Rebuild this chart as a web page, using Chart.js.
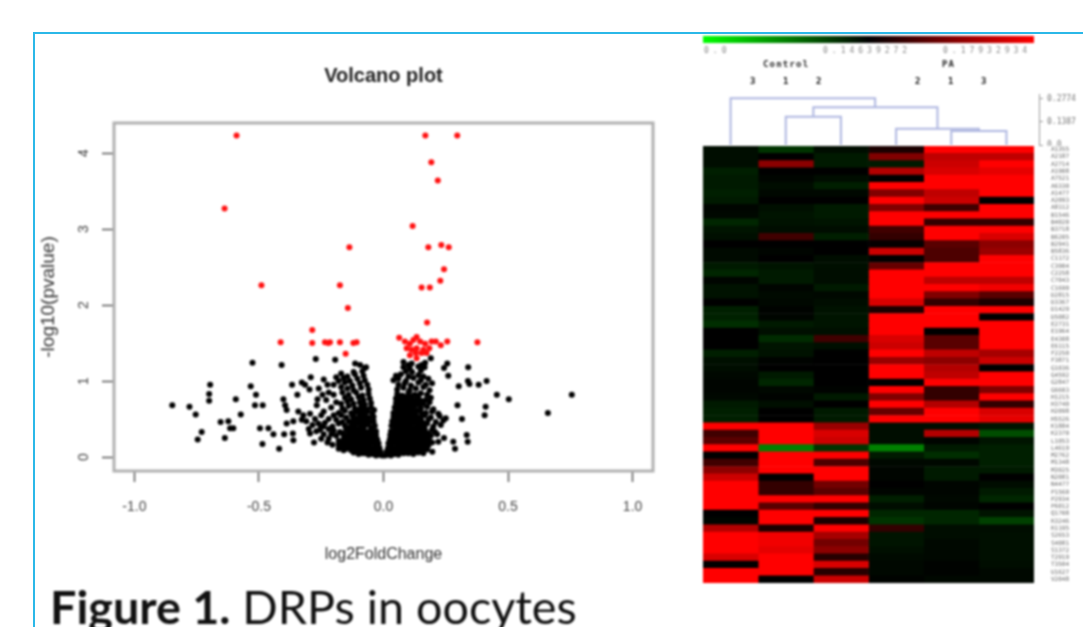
<!DOCTYPE html>
<html>
<head>
<meta charset="utf-8">
<title>Figure 1. DRPs in oocytes</title>
<script src="https://cdn.jsdelivr.net/npm/chart.js@4"></script>
<style>
  html, body { margin: 0; padding: 0; background: #fff; overflow: hidden; }
  #page { position: relative; width: 1083px; height: 627px; overflow: hidden; }
  #frame { position: absolute; left: 33px; top: 32px; width: 1060px; height: 610px; border-top: 2px solid #2bb8e8; border-left: 2px solid #2bb8e8; }
  canvas { position: absolute; filter: blur(1px); }
  .txt { position: absolute; white-space: nowrap; filter: blur(0.8px); }
  #scaleBar { position: absolute; left: 703px; top: 36px; width: 331px; height: 7px; filter: blur(1px);
    background: linear-gradient(to right, #00ff00, #000 50%, #ff0000); }
  .scaleNum { font: 8px "DejaVu Sans Mono"; letter-spacing: 4px; color: #888; top: 46px; }
  .group { font: bold 9px "DejaVu Sans Mono"; letter-spacing: 1.2px; color: #222; top: 59px; }
  .col { font: bold 9px "DejaVu Sans Mono"; color: #111; top: 76px; }
  #caption { left: 50px; top: 578px; font: 46.7px Lato; color: #111; }
</style>
</head>
<body>
<div id="page">
  <div id="frame"></div>
  <canvas id="volcano" width="640" height="560" style="left:34px;top:34px"></canvas>
  <div id="scaleBar"></div>
  <div class="txt scaleNum" style="left:704px">0.0</div>
  <div class="txt scaleNum" style="left:823px">0.14639272</div>
  <div class="txt scaleNum" style="left:943px">0.17932934</div>
  <div class="txt group" style="left:763px">Control</div>
  <div class="txt group" style="left:942px">PA</div>
  <div class="txt col" style="left:750px">3</div>
  <div class="txt col" style="left:783px">1</div>
  <div class="txt col" style="left:816px">2</div>
  <div class="txt col" style="left:915px">2</div>
  <div class="txt col" style="left:948px">1</div>
  <div class="txt col" style="left:981px">3</div>
  <canvas id="dendro" width="380" height="56" style="left:703px;top:90px"></canvas>
  <canvas id="heat" width="380" height="437" style="left:703px;top:146px"></canvas>
  <div class="txt" id="caption"><b>Figure 1.</b> DRPs in oocytes</div>
</div>
<script>
// volcano plot, values
const xTicks = [-1, -0.5, 0, 0.5, 1];
const yTicks = [0, 1, 2, 3, 4];

const significant = [
  [-0.59,4.23],[-0.638,3.27],[-0.137,2.76],[-0.49,2.26],[-0.175,2.26],[-0.143,1.96],[-0.286,1.67],
  [-0.413,1.51],[-0.286,1.5],[-0.235,1.51],[-0.222,1.5],[-0.215,1.51],[-0.175,1.51],[-0.121,1.5],
  [-0.108,1.51],[-0.152,1.36],
  [0.168,4.23],[0.296,4.23],[0.192,3.88],[0.218,3.64],[0.117,3.04],[0.18,2.76],[0.232,2.79],[0.262,2.76],
  [0.243,2.47],[0.228,2.32],[0.153,2.23],[0.186,2.23],[0.175,1.77],[0.063,1.57],[0.133,1.58],[0.377,1.51],
  [0.256,1.52],[0.23,1.47],[0.21,1.52],[0.086,1.52],[0.106,1.49],[0.12,1.54],[0.147,1.52],[0.167,1.49],
  [0.193,1.52],[0.093,1.43],[0.113,1.41],[0.133,1.43],[0.16,1.41],[0.184,1.43],[0.106,1.34],[0.133,1.3],
  [0.153,1.37],[0.173,1.37],[0.13,1.37]
];

const scatterLeft = [
  [-0.526,1.24],[-0.409,1.21],[-0.272,1.29],[-0.194,1.28],[-0.114,1.23],[-0.094,1.21],[-0.07,1.18],
  [-0.696,0.95],[-0.7,0.83],[-0.7,0.74],[-0.848,0.68],[-0.779,0.66],[-0.754,0.56],[-0.593,0.76],
  [-0.533,0.93],[-0.512,0.82],[-0.516,0.68],[-0.485,0.68],[-0.573,0.56],[-0.654,0.46],[-0.623,0.47],
  [-0.616,0.38],[-0.603,0.38],[-0.73,0.33],[-0.746,0.23],[-0.637,0.25],[-0.496,0.38],[-0.462,0.38],
  [-0.442,0.3],[-0.399,0.3],[-0.486,0.17],[-0.419,0.11],[-0.402,0.76],[-0.395,0.68],[-0.389,0.62],
  [-0.367,0.95],[-0.328,0.98],[-0.315,0.95],[-0.292,1.05],[-0.297,0.89],[-0.346,0.82],[-0.265,0.76],
  [-0.268,0.68],[-0.342,0.6],[-0.322,0.55],[-0.295,0.57],[-0.389,0.44],[-0.362,0.47],[-0.328,0.49],
  [-0.364,0.31],[-0.362,0.22],[-0.295,0.31],[-0.279,0.19],[-0.261,0.44],[-0.241,0.4],[-0.255,0.36],
  [-0.2,0.95],[-0.22,0.85],[-0.19,1.05],[-0.23,0.75],[-0.21,0.65],[-0.19,0.72],[-0.2,0.55],[-0.22,0.5],
  [-0.24,0.6],[-0.18,1.0],[-0.2,0.82],[-0.225,0.95],[-0.17,1.1],[-0.25,0.55],[-0.235,0.45],[-0.25,0.4],
  [-0.275,0.5],[-0.285,0.42],[-0.27,0.34],[-0.31,0.47],[-0.3,0.37],[-0.22,0.24],[-0.24,0.3],[-0.205,0.16],
  [-0.225,0.19],[-0.18,0.11],[-0.16,0.09],[-0.25,0.24],[-0.245,0.82],[-0.26,0.9],[-0.24,1.02]
];

const scatterRight = [
  [0.756,0.82],[0.66,0.58],[0.503,0.76],[0.455,0.82],[0.414,1.0],[0.382,0.95],[0.34,1.18],[0.339,1.0],
  [0.345,0.96],[0.302,0.93],[0.26,1.07],[0.256,1.23],[0.243,1.17],[0.297,0.68],[0.41,0.66],[0.406,0.55],
  [0.315,0.5],[0.334,0.29],[0.338,0.2],[0.28,0.2],[0.287,0.11],[0.196,0.07],[0.22,0.2],[0.243,0.25],
  [0.18,0.29],[0.207,0.33],[-0.038,0.62],[0.08,1.25],[0.1,1.21],[0.113,1.23],[0.153,1.21],[0.167,1.24],[0.19,1.3]
];

const denseLeft = [
  [-0.005,0.02],[-0.015,0.03],[-0.03,0.02],[-0.045,0.04],[-0.06,0.03],[-0.075,0.05],
  [-0.012,0.07],[-0.024,0.06],[-0.04,0.08],[-0.056,0.07],[-0.07,0.09],[-0.09,0.06],[-0.105,0.08],
  [-0.016,0.12],[-0.03,0.13],[-0.046,0.11],[-0.06,0.14],[-0.08,0.12],[-0.1,0.13],[-0.12,0.11],[-0.14,0.13],
  [-0.02,0.18],[-0.035,0.17],[-0.05,0.19],[-0.07,0.16],[-0.09,0.18],[-0.11,0.17],[-0.13,0.19],[-0.15,0.16],[-0.165,0.18],
  [-0.025,0.23],[-0.04,0.22],[-0.06,0.24],[-0.08,0.21],[-0.1,0.23],[-0.12,0.25],[-0.14,0.22],[-0.16,0.24],[-0.18,0.21],
  [-0.03,0.29],[-0.045,0.27],[-0.06,0.3],[-0.08,0.28],[-0.1,0.3],[-0.125,0.27],[-0.145,0.29],[-0.165,0.31],[-0.19,0.28],[-0.21,0.3],
  [-0.03,0.34],[-0.05,0.36],[-0.07,0.33],[-0.09,0.35],[-0.11,0.37],[-0.13,0.34],[-0.15,0.36],[-0.175,0.33],[-0.2,0.35],[-0.22,0.37],
  [-0.035,0.41],[-0.05,0.39],[-0.07,0.42],[-0.09,0.4],[-0.115,0.43],[-0.135,0.39],[-0.155,0.41],[-0.18,0.44],[-0.205,0.4],
  [-0.04,0.47],[-0.055,0.46],[-0.075,0.48],[-0.1,0.45],[-0.12,0.49],[-0.14,0.47],[-0.165,0.46],[-0.19,0.49],
  [-0.04,0.53],[-0.06,0.52],[-0.08,0.55],[-0.1,0.51],[-0.125,0.54],[-0.15,0.52],[-0.17,0.55],
  [-0.045,0.58],[-0.065,0.6],[-0.085,0.57],[-0.11,0.6],[-0.13,0.58],[-0.155,0.61],[-0.18,0.58],
  [-0.05,0.65],[-0.07,0.63],[-0.09,0.66],[-0.115,0.64],[-0.14,0.67],[-0.165,0.64],
  [-0.05,0.71],[-0.075,0.69],[-0.095,0.72],[-0.12,0.7],[-0.145,0.73],[-0.17,0.7],
  [-0.055,0.77],[-0.08,0.75],[-0.1,0.79],[-0.13,0.76],[-0.155,0.78],
  [-0.06,0.83],[-0.085,0.81],[-0.11,0.85],[-0.14,0.82],[-0.165,0.85],
  [-0.06,0.89],[-0.09,0.91],[-0.12,0.88],[-0.145,0.9],[-0.17,0.92],
  [-0.065,0.95],[-0.095,0.97],[-0.125,0.94],[-0.155,0.98],
  [-0.075,1.01],[-0.105,1.03],[-0.135,1.0],[-0.16,1.04],
  [-0.08,1.07],[-0.115,1.09],[-0.145,1.06],[-0.085,1.13],[-0.12,1.12],[-0.075,1.17],
  [-0.085,0.05],[-0.1,0.04],[-0.12,0.06],
  [-0.035,0.1],[-0.065,0.1],[-0.09,0.09],[-0.11,0.11],[-0.13,0.09],[-0.15,0.11],
  [-0.025,0.15],[-0.055,0.16],[-0.08,0.15],[-0.1,0.15],[-0.12,0.14],[-0.14,0.16],[-0.16,0.14],[-0.18,0.16],
  [-0.03,0.2],[-0.06,0.19],[-0.085,0.2],[-0.105,0.21],[-0.125,0.2],[-0.15,0.21],[-0.17,0.2],
  [-0.035,0.26],[-0.07,0.26],[-0.09,0.25],[-0.11,0.27],[-0.135,0.26],[-0.155,0.27],
  [-0.04,0.32],[-0.06,0.33],[-0.08,0.31],[-0.1,0.33],[-0.12,0.32],[-0.14,0.33],
  [-0.045,0.38],[-0.08,0.38],[-0.1,0.37],[-0.125,0.39],[-0.145,0.38],
  [-0.065,0.44],[-0.085,0.45],[-0.11,0.44],[-0.13,0.45],
  [-0.07,0.5],[-0.09,0.5],[-0.115,0.51],[-0.075,0.56],[-0.095,0.56],[-0.12,0.56],[-0.08,0.62],[-0.1,0.62]
];

const denseRight = [
  [0.005,0.02],[0.015,0.03],[0.03,0.02],[0.045,0.04],[0.06,0.03],[0.08,0.05],
  [0.012,0.07],[0.025,0.06],[0.04,0.08],[0.055,0.07],[0.07,0.09],[0.09,0.06],[0.11,0.08],[0.135,0.07],[0.155,0.09],
  [0.018,0.12],[0.03,0.13],[0.045,0.11],[0.06,0.14],[0.08,0.12],[0.1,0.13],[0.12,0.11],[0.14,0.14],[0.16,0.12],
  [0.02,0.18],[0.035,0.17],[0.05,0.19],[0.07,0.16],[0.09,0.18],[0.11,0.17],[0.13,0.19],[0.15,0.16],[0.17,0.18],
  [0.025,0.23],[0.04,0.22],[0.055,0.24],[0.075,0.21],[0.095,0.23],[0.115,0.25],[0.135,0.22],[0.16,0.24],[0.185,0.21],
  [0.027,0.29],[0.045,0.27],[0.06,0.3],[0.08,0.28],[0.1,0.3],[0.12,0.27],[0.14,0.29],[0.16,0.31],[0.19,0.28],[0.215,0.3],
  [0.03,0.34],[0.05,0.36],[0.065,0.33],[0.085,0.35],[0.105,0.37],[0.125,0.34],[0.145,0.36],[0.17,0.33],[0.195,0.36],
  [0.032,0.41],[0.05,0.39],[0.07,0.42],[0.09,0.4],[0.11,0.43],[0.13,0.39],[0.15,0.41],[0.175,0.44],[0.2,0.4],[0.23,0.42],
  [0.035,0.47],[0.055,0.46],[0.075,0.48],[0.095,0.45],[0.115,0.49],[0.135,0.47],[0.155,0.46],[0.18,0.49],[0.21,0.46],[0.24,0.48],
  [0.04,0.53],[0.06,0.52],[0.08,0.55],[0.1,0.51],[0.12,0.54],[0.14,0.52],[0.165,0.55],[0.19,0.52],[0.225,0.54],[0.25,0.51],
  [0.04,0.58],[0.06,0.6],[0.08,0.57],[0.1,0.6],[0.12,0.58],[0.145,0.61],[0.17,0.58],[0.195,0.6],[0.22,0.57],
  [0.045,0.65],[0.065,0.63],[0.085,0.66],[0.105,0.64],[0.125,0.67],[0.15,0.64],[0.175,0.66],[0.2,0.63],
  [0.05,0.71],[0.07,0.69],[0.09,0.72],[0.11,0.7],[0.135,0.73],[0.16,0.7],[0.185,0.72],
  [0.05,0.77],[0.07,0.75],[0.095,0.79],[0.115,0.76],[0.14,0.78],[0.17,0.75],[0.19,0.78],
  [0.055,0.83],[0.075,0.81],[0.1,0.85],[0.125,0.82],[0.15,0.84],[0.175,0.82],
  [0.055,0.89],[0.08,0.91],[0.105,0.88],[0.13,0.9],[0.16,0.92],[0.185,0.88],
  [0.06,0.95],[0.085,0.97],[0.11,0.94],[0.14,0.98],[0.17,0.95],[0.195,0.97],
  [0.04,1.01],[0.06,1.03],[0.09,1.0],[0.12,1.04],[0.15,1.01],[0.18,1.03],
  [0.05,1.07],[0.07,1.09],[0.1,1.06],[0.14,1.08],[0.16,1.06],
  [0.09,1.13],[0.115,1.12],[0.15,1.14],[0.08,1.18],[0.105,1.17],[0.14,1.19],[0.165,1.18],
  [0.1,0.05],[0.12,0.04],[0.14,0.06],[0.16,0.05],
  [0.035,0.1],[0.065,0.1],[0.085,0.09],[0.105,0.11],[0.13,0.09],[0.15,0.11],[0.175,0.1],
  [0.03,0.15],[0.055,0.16],[0.08,0.15],[0.1,0.15],[0.12,0.14],[0.14,0.16],[0.16,0.15],[0.18,0.15],
  [0.035,0.2],[0.06,0.19],[0.085,0.2],[0.105,0.21],[0.125,0.2],[0.15,0.21],[0.17,0.2],[0.195,0.19],
  [0.04,0.26],[0.07,0.26],[0.09,0.25],[0.11,0.27],[0.13,0.26],[0.15,0.27],[0.175,0.26],
  [0.04,0.32],[0.06,0.33],[0.075,0.31],[0.095,0.33],[0.115,0.32],[0.135,0.33],[0.155,0.32],[0.18,0.31],
  [0.045,0.38],[0.06,0.38],[0.08,0.37],[0.1,0.39],[0.12,0.38],[0.14,0.37],[0.165,0.38],
  [0.045,0.44],[0.065,0.44],[0.085,0.45],[0.105,0.44],[0.125,0.45],[0.145,0.44],[0.165,0.43],
  [0.05,0.5],[0.07,0.5],[0.09,0.5],[0.11,0.49],[0.13,0.51],[0.15,0.5],
  [0.05,0.56],[0.07,0.55],[0.09,0.56],[0.11,0.56],[0.13,0.55],[0.155,0.57],
  [0.055,0.62],[0.075,0.61],[0.095,0.62],[0.115,0.62],[0.135,0.61],
  [0.06,0.68],[0.08,0.68],[0.1,0.67],[0.12,0.68],[0.145,0.68],
  [0.06,0.74],[0.085,0.74],[0.105,0.73],[0.125,0.74],[0.15,0.74],
  [0.065,0.8],[0.085,0.79],[0.11,0.8],[0.135,0.81]
];

// heatmap, one row per protein, columns Control 3 1 2 and PA 2 1 3
// green is below the middle of the colour scale, red above it
const heatRows = [
  [-0.05,-0.2,-0.05,0.1,1,1],[-0.05,0,-0.1,0.5,0.75,0.75],[-0.05,0.55,-0.1,-0.1,0.8,1],[-0.12,0,0,0.7,0.85,0.9],
  [-0.1,-0.02,-0.05,0,1,1],[-0.1,-0.05,-0.12,1,1,1],[-0.12,-0.03,-0.03,0.5,0.75,1],[-0.1,0,0,1,0.8,0],
  [-0.02,-0.06,-0.1,0.5,0.25,1],[-0.03,-0.08,-0.1,1,1,1],[-0.15,-0.07,-0.08,1,0.2,0.2],[-0.08,-0.05,-0.05,0.25,1,1],
  [-0.06,0.25,-0.12,0.2,1,0.85],[0,0,0,0.02,0.35,0.55],[-0.04,-0.02,0,0.8,0.3,0.6],[-0.04,0,-0.05,0,0.3,1],
  [-0.1,-0.08,-0.06,0.4,1,1],[-0.15,-0.1,-0.05,1,1,1],[-0.02,-0.1,-0.05,1,0.75,0.75],[-0.07,-0.02,-0.1,1,1,0.95],
  [-0.07,-0.04,-0.03,1,0.5,0.35],[0,-0.03,-0.05,0.85,0.2,0.1],[-0.12,-0.01,-0.07,0.1,1,1],[-0.13,-0.02,-0.08,1,1,0],
  [-0.18,-0.1,-0.08,1,1,1],[0,-0.06,-0.06,1,0,1],[0,-0.17,0.25,0.85,0.35,1],[0,-0.08,-0.06,0.8,0.35,1],
  [-0.12,-0.07,0,1,0.75,0.65],[-0.06,-0.01,0,0.6,0.55,0.8],[-0.05,0,0,1,0.7,0],[-0.03,-0.1,0,1,0.75,1],
  [-0.02,-0.15,0,0,1,1],[-0.02,-0.03,-0.01,1,0.2,0.5],[-0.03,-0.01,-0.1,0.5,0.2,1],[-0.1,-0.06,0,1,0.7,0.2],
  [-0.12,0,-0.1,0.4,1,0.85],[-0.12,0,-0.1,1,1,0.9],
  [1,1,0.6,-0.05,-0.05,-0.08],[0.25,1,0.85,-0.05,0.7,-0.3],[0.35,1,0.8,-0.05,-0.02,-0.08],[1,-0.5,-0.2,-0.5,-0.1,-0.12],
  [0,1,1,-0.1,-0.18,-0.12],[0.25,1,0.3,-0.03,-0.03,-0.12],[0.55,1,1,-0.02,-0.1,-0.1],[0.8,0,1,-0.02,-0.1,0],
  [1,0.2,0.45,0,-0.02,-0.05],[1,0.2,0.35,-0.02,-0.02,-0.1],[1,1,1,-0.12,-0.03,-0.15],[1,0.35,0.2,-0.05,-0.02,0],
  [0,1,1,-0.15,-0.15,-0.08],[-0.02,1,0.1,-0.2,-0.15,-0.25],[0.7,0.1,1,0.2,-0.05,-0.05],[1,0.95,0.65,-0.08,-0.05,-0.06],
  [1,0.95,0.45,-0.08,-0.03,-0.06],[1,0.9,0.55,-0.06,-0.03,-0.06],[0.85,1,0.15,-0.04,-0.03,-0.06],[0,1,0.85,-0.03,-0.01,-0.05],
  [1,1,0.15,-0.03,-0.01,-0.03],[1,0,0.8,-0.01,-0.03,-0.03]
];

// the row labels cannot be read in the picture, these are only close in shape
const rowLabels = [
  "A1355","A2187","A2714","A1908","A7521","A6330","A1477","A2093","A8112","B1546",
  "B4020","B3718","B6205","B2941","B5836","C1172","C3904","C2258","C7043","C1690",
  "D2815","D3367","D1429","D5082","E2731","E1964","E4308","E6115","F2250","F3871",
  "G1036","G4592","G2847","G6603","H1215","H3740","H2098","H5526","K1884","K2370",
  "L1053","L4619","M2762","M1348","M3925","N2081","N4477","P1560","P2934","P6012",
  "Q1708","R3246","R1195","S2653","S4081","S1372","T2919","T3504","U1627","V2048"
];
const heatColumns = ["3","1","2","2","1","3"];

// dendrogram merges: left leaf x, left height, right leaf x, right height, join height
const dendroMerges = [
  [4.5, 0, 5.5, 0, 0.084],
  [3.5, 0, 5.0, 0.084, 0.097],
  [1.5, 0, 2.5, 0, 0.169],
  [2.0, 0.169, 4.25, 0.097, 0.225],
  [0.5, 0, 3.12, 0.225, 0.28]
];
const dendroTicks = [0, 0.1387, 0.2774];

Chart.defaults.animation = false;
Chart.defaults.responsive = false;

const toXY = (p) => ({ x: p[0], y: p[1] });
const otherPoints = scatterLeft.concat(scatterRight, denseLeft, denseRight).map(toXY);

const plotBox = {
  id: 'plotBox',
  beforeDatasetsDraw(chart) {
    const { ctx, chartArea: a } = chart;
    ctx.save();
    ctx.strokeStyle = '#b0b0b0';
    ctx.lineWidth = 3;
    ctx.strokeRect(a.left, a.top, a.right - a.left, a.bottom - a.top);
    ctx.restore();
  }
};

new Chart(document.getElementById('volcano').getContext('2d'), {
  type: 'scatter',
  plugins: [plotBox],
  data: {
    datasets: [
      { label: 'other', data: otherPoints, backgroundColor: '#000', borderWidth: 0, pointRadius: 3 },
      { label: 'significant', data: significant.map(toXY), backgroundColor: '#ff1010', borderWidth: 0, pointRadius: 3 }
    ]
  },
  options: {
    layout: { padding: { right: 21 } },
    plugins: {
      legend: { display: false },
      tooltip: { enabled: false },
      title: {
        display: true,
        text: 'Volcano plot',
        fullSize: false,
        color: '#222',
        font: { family: 'Liberation Sans', size: 20, weight: 'bold' },
        padding: { top: 30, bottom: 35 }
      }
    },
    scales: {
      x: {
        type: 'linear',
        min: -1.082,
        max: 1.082,
        afterBuildTicks: (axis) => { axis.ticks = xTicks.map((v) => ({ value: v })); },
        afterFit: (axis) => { axis.height = 123; },
        border: { display: false },
        grid: { drawOnChartArea: false, tickLength: 11, tickColor: '#555', tickWidth: 1.5 },
        ticks: {
          callback: (v) => v.toFixed(1),
          color: '#444',
          maxRotation: 0,
          padding: 17,
          font: { family: 'Liberation Sans', size: 14 }
        },
        title: {
          display: true,
          text: 'log2FoldChange',
          color: '#333',
          font: { family: 'Liberation Sans', size: 16 },
          padding: { top: 24, bottom: 30 }
        }
      },
      y: {
        type: 'linear',
        min: -0.184,
        max: 4.395,
        afterBuildTicks: (axis) => { axis.ticks = yTicks.map((v) => ({ value: v })); },
        afterFit: (axis) => { axis.width = 80; },
        border: { display: false },
        grid: { drawOnChartArea: false, tickLength: 12, tickColor: '#555', tickWidth: 1.5 },
        ticks: {
          color: '#444',
          minRotation: 90,
          maxRotation: 90,
          crossAlign: 'center',
          padding: 14,
          font: { family: 'Liberation Sans', size: 14 }
        },
        title: {
          display: true,
          text: '-log10(pvalue)',
          color: '#333',
          font: { family: 'Liberation Sans', size: 19 },
          padding: { top: 3, bottom: 0 }
        }
      }
    }
  }
});

const dendroLine = (m) => [
  { x: m[0], y: m[1] }, { x: m[0], y: m[4] }, { x: m[2], y: m[4] }, { x: m[2], y: m[3] }
];

new Chart(document.getElementById('dendro').getContext('2d'), {
  type: 'scatter',
  data: {
    datasets: dendroMerges.map((m) => ({
      data: dendroLine(m),
      showLine: true,
      pointRadius: 0,
      borderColor: '#aeb6e0',
      borderWidth: 2
    }))
  },
  options: {
    layout: { padding: { top: 4.8, bottom: 1 } },
    plugins: { legend: { display: false }, tooltip: { enabled: false } },
    scales: {
      x: { type: 'linear', display: false, min: 0, max: 6.09 },
      y: {
        type: 'linear',
        position: 'right',
        min: 0,
        max: 0.3,
        afterBuildTicks: (axis) => { axis.ticks = dendroTicks.map((v) => ({ value: v })); },
        afterFit: (axis) => { axis.width = 44; axis.paddingTop = 0; axis.paddingBottom = 0; },
        border: { color: '#999' },
        grid: { drawOnChartArea: false, tickLength: 4, tickColor: '#999' },
        ticks: {
          callback: (v) => (v === 0 ? '0.0' : String(v)),
          color: '#777',
          padding: 4,
          font: { family: 'DejaVu Sans Mono', size: 8 }
        }
      }
    }
  }
});

// colour for one heatmap value
const heatColour = (v) => (v >= 0
  ? 'rgb(' + Math.round(255 * v) + ',0,0)'
  : 'rgb(0,' + Math.round(-255 * v) + ',0)');

new Chart(document.getElementById('heat').getContext('2d'), {
  type: 'bar',
  data: {
    labels: rowLabels,
    datasets: heatColumns.map((name, c) => ({
      label: name,
      data: heatRows.map(() => 1),
      backgroundColor: heatRows.map((row) => heatColour(row[c])),
      borderWidth: 0,
      barPercentage: 1,
      categoryPercentage: 1
    }))
  },
  options: {
    indexAxis: 'y',
    plugins: { legend: { display: false }, tooltip: { enabled: false } },
    scales: {
      x: { type: 'linear', display: false, stacked: true, min: 0, max: 6 },
      y: {
        position: 'right',
        stacked: true,
        afterFit: (axis) => { axis.width = 49; axis.paddingTop = 0; axis.paddingBottom = 0; },
        border: { display: false },
        grid: { display: false },
        ticks: {
          autoSkip: false,
          color: '#666',
          padding: 9,
          font: { family: 'DejaVu Sans Mono', size: 6 }
        }
      }
    }
  }
});
</script>
</body>
</html>
